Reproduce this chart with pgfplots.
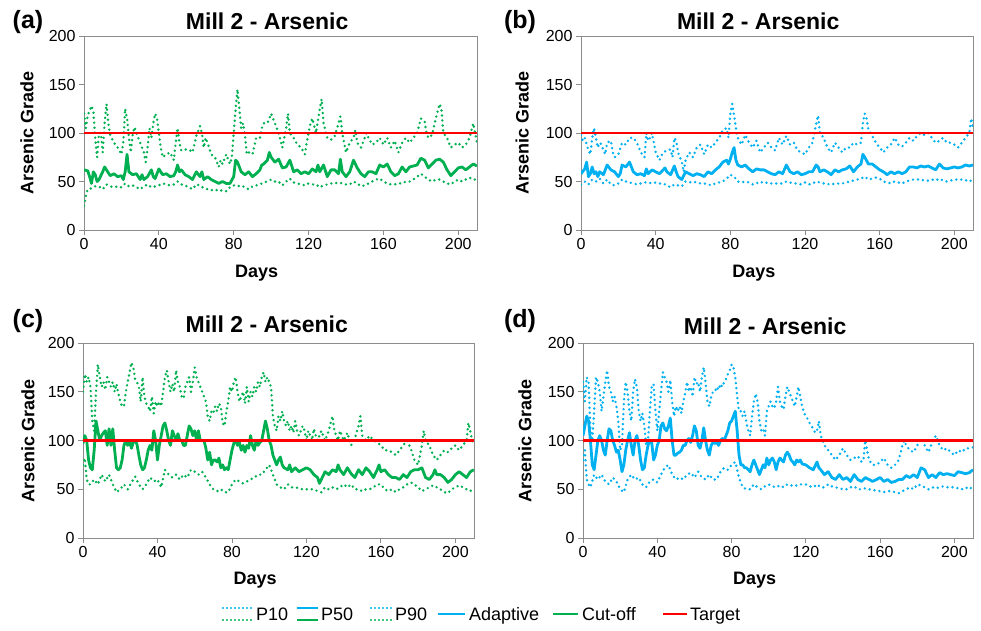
\documentclass[border=0pt]{standalone}
\usepackage{fontspec}
\setmainfont{Liberation Sans}
\usepackage{pgfplots}
\pgfplotsset{compat=1.18}
\definecolor{cGreen}{HTML}{00B050}
\definecolor{cBlue}{HTML}{00B0F0}
\definecolor{cRed}{HTML}{FF0000}
\definecolor{cAxis}{HTML}{8C8C8C}
\newcommand{\tickfont}{\fontsize{16}{18}\selectfont}
\newcommand{\labfont}{\fontsize{18}{20}\selectfont\bfseries}
\newcommand{\titfont}{\fontsize{23}{25}\selectfont\bfseries}

\tikzset{
  p10/.style={line width=2.7pt, dash pattern=on 0pt off 5pt, line cap=round, line join=round},
  p50/.style={line width=2.8pt, line join=round},
  tgt/.style={cRed, line width=2.4pt},
}
\pgfplotsset{
  mill/.style={
    scale only axis, clip=true,
    xmin=0, xmax=210, ymin=0, ymax=200,
    xtick={0,40,...,200}, ytick={0,50,...,200},
    axis line style={draw=cAxis, line width=0.9pt},
    tick style={draw=cAxis, line width=0.9pt},
    tick align=outside, tick pos=left, major tick length=5pt,
    /pgf/number format/assume math mode=true,
    tick label style={font=\tickfont, text=black},
    xlabel={Days}, ylabel={Arsenic Grade},
    xlabel style={font=\labfont, anchor=center},
    ylabel style={font=\labfont, anchor=center, rotate=0},
    title={Mill 2 - Arsenic},
    title style={font=\titfont, anchor=center},
  },
}

\begin{document}
\begin{tikzpicture}[x=1pt,y=1pt]
\path[use as bounding box] (0,0) rectangle (981,630);

% (a) cut-off, base
\begin{axis}[mill, at={(84pt,400pt)}, anchor=south west, width=393pt, height=194pt,
  xlabel style={at={(axis description cs:0.439,-0.222)}},
  ylabel style={at={(axis description cs:-0.145,0.5)}},
  title style={at={(axis description cs:0.466,1.046)}}]
\addplot[cGreen, p10] coordinates {(0,25) (1,35) (2,42) (4,43) (6,45) (8,45) (10,42) (12,47) (14,45) (16,44) (18,45) (20,44) (22,48) (24,45) (26,46) (28,44) (30,42) (32,45) (34,47) (36,44) (38,45) (40,46) (42,48) (44,47) (46,46) (48,47) (50,50) (52,47) (54,46) (56,44) (58,42) (60,47) (62,46) (64,43) (66,42) (68,41) (70,42) (72,40) (74,41) (76,40) (78,44) (80,46) (82,45) (84,46) (86,44) (88,42) (90,45) (92,46) (94,47) (96,49) (98,50) (100,52) (102,50) (104,50) (106,46) (108,50) (110,53) (112,49) (114,48) (116,47) (118,46) (120,48) (122,47) (124,47) (126,44) (128,46) (130,47) (132,48) (134,48) (136,49) (138,48) (140,47) (142,47) (144,50) (146,48) (148,45) (150,46) (152,48) (154,50) (156,52) (158,53) (160,50) (162,48) (164,47) (166,47) (168,48) (170,48) (172,50) (174,50) (176,52) (178,55) (180,58) (182,55) (184,52) (186,50) (188,52) (190,52) (192,50) (194,48) (196,47) (198,50) (200,52) (202,50) (204,52) (206,54) (208,52) (210,52)};
\addplot[cGreen, p50] coordinates {(0,62) (2,61) (3,55) (4,48) (5,60) (6,57) (7,50) (8,52) (10,60) (11,65) (12,62) (14,56) (16,58) (18,55) (20,56) (21,52) (22,60) (23,78) (24,60) (26,57) (28,58) (30,52) (31,57) (32,52) (34,55) (36,62) (37,55) (38,53) (40,63) (42,57) (44,58) (46,55) (48,56) (49,60) (50,67) (51,60) (52,62) (54,57) (56,55) (58,52) (60,60) (62,55) (63,60) (64,52) (66,55) (68,52) (70,50) (72,48) (74,50) (76,48) (78,48) (80,55) (81,72) (82,70) (84,60) (86,57) (88,60) (90,55) (92,58) (94,62) (95,67) (96,68) (98,72) (99,80) (100,75) (102,70) (104,73) (106,64) (108,65) (110,72) (112,60) (114,62) (116,58) (118,60) (120,58) (122,63) (124,60) (125,67) (126,60) (128,67) (130,55) (132,62) (134,62) (136,58) (137,73) (138,60) (140,55) (142,60) (144,72) (146,64) (148,58) (150,55) (152,60) (154,60) (156,58) (158,67) (160,65) (162,68) (164,60) (166,56) (168,58) (170,65) (172,60) (174,65) (176,66) (178,67) (180,74) (182,72) (184,64) (186,68) (188,72) (190,73) (192,70) (194,62) (196,56) (198,60) (200,64) (202,65) (204,62) (206,65) (208,68) (210,66)};
\addplot[cGreen, p10] coordinates {(0,120) (1,105) (2,118) (4,128) (5,122) (6,95) (7,75) (8,100) (9,100) (10,80) (11,110) (12,130) (13,110) (14,98) (16,90) (18,85) (20,78) (21,90) (22,125) (23,115) (24,95) (25,80) (26,98) (27,106) (28,100) (30,90) (32,80) (33,70) (34,85) (35,105) (36,95) (37,110) (38,120) (39,115) (40,100) (41,85) (42,75) (44,78) (46,80) (48,72) (49,90) (50,105) (51,90) (52,82) (54,83) (56,83) (58,80) (59,88) (60,97) (62,107) (63,100) (64,85) (65,95) (66,90) (68,78) (70,75) (72,65) (73,72) (74,68) (76,78) (78,68) (79,75) (80,100) (81,125) (82,145) (83,125) (84,105) (85,110) (86,98) (87,78) (88,80) (90,78) (92,95) (94,95) (95,105) (96,110) (98,110) (100,120) (101,115) (102,110) (104,100) (106,85) (108,105) (109,120) (110,100) (112,95) (114,88) (116,85) (118,78) (119,90) (121,110) (122,115) (124,100) (126,125) (127,135) (128,110) (130,95) (132,93) (134,97) (136,110) (137,117) (138,100) (140,80) (142,90) (144,95) (145,103) (146,90) (148,85) (150,95) (151,100) (152,95) (154,88) (156,90) (158,95) (160,88) (162,95) (164,85) (166,92) (168,80) (170,90) (172,95) (174,90) (176,95) (178,100) (180,115) (182,112) (183,100) (184,95) (186,98) (188,115) (190,130) (191,125) (192,100) (194,95) (196,85) (198,88) (200,90) (202,85) (204,88) (206,95) (208,110) (209,100) (210,90)};
\addplot[tgt] coordinates {(0,100) (210,100)};
\end{axis}

% (b) adaptive, base
\begin{axis}[mill, at={(581pt,400pt)}, anchor=south west, width=392pt, height=194pt,
  xlabel style={at={(axis description cs:0.441,-0.222)}},
  ylabel style={at={(axis description cs:-0.150,0.5)}},
  title style={at={(axis description cs:0.452,1.046)}}]
\addplot[cBlue, p10] coordinates {(0,47) (2,50) (4,47) (6,52) (8,50) (10,53) (12,48) (14,52) (16,47) (18,46) (20,48) (22,52) (24,50) (26,49) (28,48) (30,47) (32,48) (34,49) (36,49) (38,48) (40,49) (42,48) (44,48) (46,46) (48,44) (50,47) (52,46) (54,45) (56,50) (58,49) (60,50) (62,49) (64,48) (66,48) (68,47) (70,46) (72,48) (74,49) (76,50) (78,53) (80,57) (82,55) (84,50) (86,49) (88,50) (90,49) (92,47) (94,48) (96,50) (98,48) (100,49) (102,48) (104,48) (106,48) (108,48) (110,50) (112,49) (114,48) (116,48) (118,47) (120,49) (122,47) (124,48) (126,50) (128,49) (130,48) (132,47) (134,48) (136,47) (138,48) (140,48) (142,49) (144,50) (146,51) (148,52) (150,53) (152,55) (154,52) (156,53) (158,54) (160,53) (162,50) (164,49) (166,48) (168,50) (170,49) (172,48) (174,50) (176,51) (178,52) (180,52) (182,52) (184,51) (186,51) (188,52) (190,51) (192,53) (194,51) (196,50) (198,51) (200,52) (202,52) (204,52) (206,51) (208,52) (210,48)};
\addplot[cBlue, p50] coordinates {(0,58) (2,63) (3,70) (4,55) (5,58) (6,65) (7,58) (8,60) (9,55) (10,60) (12,57) (13,62) (14,67) (16,62) (18,60) (20,55) (21,58) (22,67) (24,65) (26,70) (28,60) (30,57) (32,58) (34,56) (35,63) (36,58) (38,62) (40,60) (42,58) (44,62) (45,64) (46,60) (48,57) (50,66) (51,60) (52,55) (54,52) (56,60) (58,58) (60,56) (62,58) (64,57) (66,55) (68,60) (70,58) (72,62) (74,65) (76,70) (78,72) (79,68) (80,73) (81,80) (82,85) (83,72) (84,67) (86,65) (88,67) (90,63) (92,60) (94,63) (96,62) (98,62) (100,60) (102,58) (104,57) (106,60) (108,58) (110,67) (112,60) (114,58) (116,60) (118,57) (120,58) (122,60) (124,60) (126,67) (127,65) (128,60) (130,62) (132,60) (134,57) (136,62) (138,60) (140,62) (142,63) (144,66) (146,60) (148,65) (150,68) (151,78) (152,75) (154,68) (156,68) (158,65) (160,62) (162,60) (164,57) (166,60) (168,58) (170,60) (172,58) (174,60) (176,65) (178,65) (180,64) (182,66) (184,65) (186,66) (188,64) (190,62) (192,68) (194,64) (196,63) (198,64) (200,65) (202,64) (204,65) (206,67) (208,66) (210,67)};
\addplot[cBlue, p10] coordinates {(0,98) (1,92) (2,95) (4,82) (5,78) (6,95) (7,105) (8,95) (9,85) (10,90) (11,88) (12,82) (13,78) (14,90) (16,92) (17,80) (18,75) (20,78) (22,90) (24,88) (26,95) (28,95) (30,90) (32,80) (34,75) (35,100) (36,92) (37,95) (38,100) (39,90) (40,80) (42,72) (44,80) (46,82) (48,83) (49,75) (50,95) (51,92) (52,80) (54,70) (55,60) (56,72) (58,80) (60,75) (62,85) (64,88) (66,78) (68,88) (70,85) (72,90) (74,95) (76,103) (78,105) (79,95) (80,120) (81,130) (82,118) (83,105) (84,95) (86,88) (88,98) (90,90) (92,85) (94,92) (96,80) (98,85) (100,90) (102,85) (104,82) (106,95) (108,88) (110,97) (112,88) (114,90) (116,82) (118,80) (120,78) (122,85) (124,90) (126,110) (127,118) (128,100) (130,95) (132,85) (134,80) (136,90) (138,85) (140,80) (142,85) (144,85) (146,90) (148,88) (150,90) (151,110) (152,120) (153,115) (154,103) (156,97) (158,90) (160,85) (162,80) (164,85) (166,88) (168,95) (170,88) (172,86) (174,90) (176,95) (178,92) (180,97) (182,100) (184,98) (186,100) (188,95) (190,90) (192,92) (194,95) (196,90) (198,90) (200,88) (202,85) (204,90) (206,95) (208,100) (209,115) (210,105)};
\addplot[tgt] coordinates {(0,100) (210,100)};
\end{axis}

% (c) cut-off, scenario
\begin{axis}[mill, at={(83pt,92pt)}, anchor=south west, width=391pt, height=195pt,
  xlabel style={at={(axis description cs:0.44,-0.215)}},
  ylabel style={at={(axis description cs:-0.141,0.5)}},
  title style={at={(axis description cs:0.47,1.066)}}]
\addplot[cGreen, p10] coordinates {(0,75) (1,82) (2,60) (3,55) (4,55) (6,60) (8,55) (10,65) (12,58) (14,65) (16,55) (18,47) (20,50) (22,55) (24,50) (26,57) (28,63) (30,55) (32,50) (34,55) (36,62) (38,58) (40,60) (42,52) (44,70) (46,65) (48,62) (50,65) (52,60) (54,65) (56,62) (58,70) (60,68) (62,65) (64,68) (66,62) (68,55) (70,50) (72,48) (74,50) (76,47) (78,47) (80,55) (82,60) (84,58) (86,56) (88,58) (90,60) (92,62) (94,65) (96,65) (98,70) (100,75) (102,65) (104,55) (106,52) (108,50) (110,55) (112,52) (114,52) (116,51) (118,50) (120,50) (122,50) (124,50) (126,48) (128,47) (130,52) (132,50) (134,52) (136,50) (138,52) (140,55) (142,52) (144,55) (146,50) (148,50) (150,48) (152,50) (154,50) (156,52) (158,55) (160,55) (162,50) (164,48) (166,50) (168,47) (170,50) (172,52) (174,55) (176,57) (178,55) (180,52) (182,48) (184,50) (186,52) (188,54) (190,52) (192,50) (194,47) (196,46) (198,50) (200,52) (202,54) (204,52) (206,50) (208,48) (210,52)};
\addplot[cGreen, p50] coordinates {(0,97) (1,105) (2,100) (3,80) (4,72) (5,70) (6,90) (7,120) (8,110) (9,100) (10,105) (11,108) (12,110) (13,95) (14,112) (15,95) (16,112) (17,90) (18,72) (19,70) (20,72) (21,80) (22,95) (23,100) (24,95) (25,100) (26,92) (27,98) (28,100) (29,96) (30,85) (31,75) (32,70) (33,72) (34,80) (35,90) (36,95) (37,90) (38,110) (39,100) (40,80) (41,95) (42,105) (43,115) (44,118) (45,110) (46,100) (47,95) (48,110) (49,105) (50,100) (51,107) (52,100) (53,100) (54,95) (55,95) (56,105) (57,115) (58,112) (59,105) (60,110) (61,100) (62,110) (63,100) (64,100) (65,100) (66,92) (67,80) (68,88) (69,75) (70,80) (71,80) (72,78) (73,82) (74,72) (75,75) (76,70) (77,72) (78,70) (79,80) (80,90) (81,97) (82,100) (83,95) (84,98) (85,90) (86,95) (87,88) (88,95) (89,92) (90,105) (91,95) (92,90) (93,100) (94,95) (95,98) (96,100) (97,110) (98,120) (99,112) (100,100) (101,95) (102,85) (103,80) (104,75) (105,80) (106,83) (107,75) (108,72) (110,70) (111,75) (112,68) (114,72) (116,68) (118,70) (120,72) (122,70) (124,65) (126,62) (127,56) (128,60) (130,68) (132,65) (134,70) (136,68) (137,75) (138,70) (140,65) (142,72) (144,66) (146,62) (148,70) (150,65) (152,72) (154,68) (156,62) (158,70) (159,75) (160,68) (162,70) (164,65) (166,62) (168,62) (170,60) (172,65) (174,62) (176,68) (178,70) (180,70) (182,72) (184,62) (186,60) (188,65) (189,70) (190,65) (192,65) (194,62) (196,57) (198,60) (200,65) (202,68) (204,65) (206,62) (208,68) (210,70)};
\addplot[cGreen, p10] coordinates {(0,150) (1,168) (2,160) (3,165) (4,155) (5,120) (6,110) (7,150) (8,178) (9,165) (10,155) (11,160) (12,152) (13,165) (14,160) (15,155) (16,160) (17,150) (18,158) (19,148) (20,140) (21,135) (22,135) (23,150) (24,160) (25,170) (26,180) (27,175) (28,163) (29,160) (30,155) (31,140) (32,165) (33,145) (34,138) (35,135) (36,130) (37,145) (38,128) (39,140) (40,135) (41,140) (42,135) (43,150) (44,165) (45,172) (46,160) (47,150) (48,158) (49,150) (50,172) (51,160) (52,155) (53,145) (54,143) (55,155) (56,160) (57,165) (58,150) (59,160) (60,175) (61,165) (62,160) (63,155) (64,150) (65,145) (66,140) (67,125) (68,120) (69,130) (70,128) (71,135) (72,130) (73,138) (74,135) (75,118) (76,115) (77,130) (78,140) (79,155) (80,150) (81,160) (82,165) (83,150) (84,140) (85,145) (86,150) (87,138) (88,155) (89,140) (90,150) (91,145) (92,155) (93,150) (94,160) (95,155) (96,165) (97,170) (98,160) (99,165) (100,160) (101,155) (102,125) (103,115) (104,110) (105,125) (106,120) (107,130) (108,120) (109,115) (110,120) (111,110) (112,115) (113,108) (114,120) (115,110) (116,105) (118,115) (119,110) (120,100) (121,110) (122,105) (123,100) (124,112) (125,105) (126,100) (128,110) (130,100) (132,110) (133,118) (134,125) (135,110) (136,105) (137,100) (138,110) (139,105) (140,100) (142,108) (144,95) (146,102) (148,115) (149,125) (150,105) (152,100) (154,105) (156,100) (158,98) (160,95) (162,90) (164,90) (166,88) (168,85) (170,90) (172,95) (174,100) (176,92) (178,80) (180,75) (182,95) (183,110) (184,100) (186,95) (188,85) (190,80) (192,85) (194,90) (196,88) (198,92) (200,95) (202,90) (204,95) (206,100) (207,118) (208,110) (209,100) (210,95)};
\addplot[tgt] coordinates {(0,100) (210,100)};
\end{axis}

% (d) adaptive, scenario
\begin{axis}[mill, at={(583pt,92pt)}, anchor=south west, width=390pt, height=195pt,
  xlabel style={at={(axis description cs:0.44,-0.215)}},
  ylabel style={at={(axis description cs:-0.149,0.5)}},
  title style={at={(axis description cs:0.467,1.057)}}]
\addplot[cBlue, p10] coordinates {(0,80) (1,90) (2,60) (3,55) (4,52) (6,65) (8,60) (10,65) (12,58) (14,55) (16,62) (18,58) (20,50) (22,47) (24,60) (26,65) (28,60) (30,62) (32,55) (34,52) (36,58) (38,60) (40,57) (42,65) (44,72) (46,75) (48,65) (50,60) (52,62) (54,60) (56,65) (58,67) (60,62) (62,68) (64,62) (66,60) (68,65) (70,60) (72,60) (74,68) (76,72) (78,70) (80,75) (82,78) (84,62) (86,52) (88,50) (90,50) (92,55) (94,52) (96,50) (98,53) (100,55) (102,53) (104,52) (106,54) (108,52) (110,55) (112,54) (114,53) (116,55) (118,55) (120,55) (122,53) (124,52) (126,55) (128,52) (130,52) (132,55) (134,53) (136,52) (138,51) (140,50) (142,50) (144,52) (146,53) (148,50) (150,50) (152,51) (154,50) (156,49) (158,49) (160,48) (162,47) (164,48) (166,48) (168,47) (170,46) (172,48) (174,50) (176,52) (178,50) (180,55) (182,54) (184,52) (186,50) (188,52) (190,51) (192,52) (194,53) (196,52) (198,52) (200,52) (202,51) (204,50) (206,52) (208,50) (210,53)};
\addplot[cBlue, p50] coordinates {(0,105) (1,115) (2,125) (3,120) (4,100) (5,75) (6,70) (7,85) (8,100) (9,105) (10,100) (11,90) (12,85) (13,100) (14,112) (15,110) (16,100) (17,95) (18,88) (19,90) (20,80) (21,68) (22,75) (23,90) (24,100) (25,108) (26,95) (27,85) (28,100) (29,105) (30,95) (31,80) (32,70) (33,72) (34,85) (35,95) (36,100) (37,98) (38,80) (39,85) (40,95) (41,100) (42,115) (43,118) (44,112) (45,110) (46,115) (47,123) (48,100) (49,85) (50,85) (51,87) (52,88) (53,90) (54,95) (55,95) (56,100) (57,102) (58,98) (59,105) (60,115) (61,110) (62,95) (63,92) (64,100) (65,113) (66,100) (67,90) (68,85) (69,95) (70,98) (71,97) (72,98) (73,95) (74,100) (75,102) (76,100) (77,105) (78,110) (79,118) (80,120) (81,125) (82,130) (83,110) (84,85) (85,75) (86,75) (87,72) (88,72) (89,70) (90,68) (91,75) (92,80) (93,75) (94,70) (95,65) (96,70) (97,75) (98,72) (99,82) (100,75) (101,80) (102,82) (103,78) (104,70) (105,78) (106,82) (107,80) (108,78) (109,85) (110,88) (111,85) (112,80) (113,78) (114,75) (115,80) (116,78) (117,80) (118,76) (120,75) (122,72) (124,70) (126,78) (127,72) (128,70) (130,65) (132,68) (134,62) (136,60) (138,65) (140,60) (142,62) (144,58) (146,65) (148,60) (150,58) (152,62) (154,60) (156,58) (158,60) (160,62) (162,58) (164,60) (166,57) (168,58) (170,60) (172,60) (174,64) (176,62) (178,65) (180,62) (182,72) (184,70) (186,62) (188,65) (190,62) (192,67) (194,65) (196,66) (198,65) (200,64) (202,68) (204,67) (206,66) (208,67) (210,70)};
\addplot[cBlue, p10] coordinates {(0,160) (1,140) (2,165) (3,160) (4,110) (5,100) (6,130) (7,165) (8,160) (9,150) (10,130) (11,145) (12,160) (13,172) (14,155) (15,150) (16,140) (17,145) (18,135) (19,120) (20,90) (21,95) (22,140) (23,160) (24,150) (25,130) (26,120) (27,150) (28,163) (29,155) (30,130) (31,120) (32,128) (33,115) (34,95) (35,100) (36,130) (37,155) (38,158) (39,130) (40,110) (41,130) (42,150) (43,170) (44,165) (45,160) (46,150) (47,162) (48,140) (49,125) (50,135) (51,130) (52,135) (53,128) (54,140) (55,148) (56,160) (57,150) (58,155) (59,145) (60,165) (61,158) (62,160) (63,150) (64,165) (65,175) (66,160) (67,140) (68,135) (69,145) (70,150) (71,150) (72,155) (73,152) (74,158) (75,155) (76,160) (77,163) (78,168) (79,172) (80,178) (81,175) (82,165) (83,145) (84,130) (85,130) (86,125) (87,130) (88,118) (89,110) (90,105) (91,125) (92,140) (93,148) (94,140) (95,120) (96,110) (97,112) (98,105) (99,130) (100,135) (101,140) (102,135) (103,133) (104,140) (105,155) (106,140) (107,135) (108,132) (109,145) (110,155) (111,150) (112,145) (113,140) (114,135) (115,145) (116,155) (117,145) (118,135) (119,128) (120,125) (121,122) (122,118) (123,115) (124,112) (125,108) (126,110) (127,120) (128,105) (129,100) (130,95) (132,90) (134,85) (136,80) (138,85) (140,92) (142,85) (144,80) (146,82) (148,84) (150,78) (151,80) (152,100) (153,90) (154,80) (156,75) (158,75) (160,78) (162,82) (164,75) (166,72) (168,75) (170,80) (172,95) (173,100) (174,95) (176,90) (178,88) (180,95) (182,102) (184,95) (186,88) (188,98) (190,105) (192,95) (194,90) (196,92) (198,88) (200,85) (202,90) (204,88) (206,92) (208,92) (210,93)};
\addplot[tgt] coordinates {(0,100) (210,100)};
\end{axis}

% panel letters
\node[font=\fontsize{25}{27}\selectfont\bfseries] at (28,608) {(a)};
\node[font=\fontsize{25}{27}\selectfont\bfseries] at (520,608) {(b)};
\node[font=\fontsize{25}{27}\selectfont\bfseries] at (28,309) {(c)};
\node[font=\fontsize{25}{27}\selectfont\bfseries] at (520,309) {(d)};

% legend
\begin{scope}[font=\fontsize{18}{20}\selectfont]
\draw[cBlue, p10, line width=2.3pt, dash pattern=on 0pt off 4pt] (223,22) -- (252,22);
\draw[cGreen, p10, line width=2.3pt, dash pattern=on 0pt off 4pt] (223,10) -- (252,10);
\node[anchor=base west, inner sep=0pt] at (256,10) {P10};
\draw[cBlue, p50] (297,22) -- (318,22);
\draw[cGreen, p50] (297,10) -- (318,10);
\node[anchor=base west, inner sep=0pt] at (321,10) {P50};
\draw[cBlue, p10, line width=2.3pt, dash pattern=on 0pt off 4pt] (371,22) -- (392,22);
\draw[cGreen, p10, line width=2.3pt, dash pattern=on 0pt off 4pt] (371,10) -- (392,10);
\node[anchor=base west, inner sep=0pt] at (395,10) {P90};
\draw[cBlue, line width=2.2pt] (438,16) -- (465,16);
\node[anchor=base west, inner sep=0pt] at (469,10) {Adaptive};
\draw[cGreen, line width=2.2pt] (553,16) -- (578,16);
\node[anchor=base west, inner sep=0pt] at (582,10) {Cut-off};
\draw[cRed, line width=2.2pt] (663,16) -- (687,16);
\node[anchor=base west, inner sep=0pt] at (690,10) {Target};
\end{scope}
\end{tikzpicture}
\end{document}
